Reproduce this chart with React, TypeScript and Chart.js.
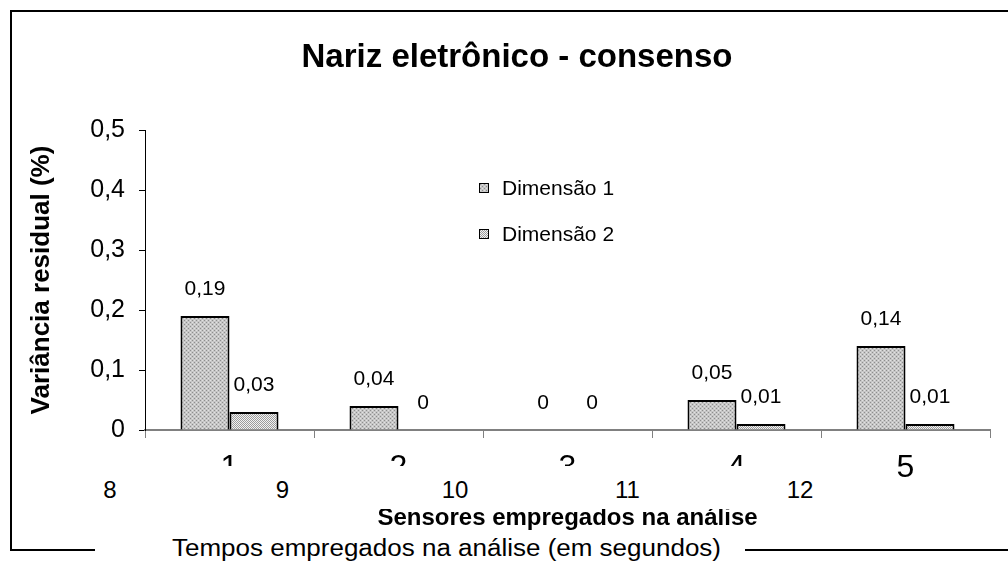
import React, { useEffect, useRef } from "react";
import { Chart, registerables } from "chart.js";

Chart.register(...registerables);

// ---- data ----
const categories = ["1", "2", "3", "4", "5"];
const seriesNames = ["Dimensão 1", "Dimensão 2"];
const dimensao1 = [0.19, 0.04, 0, 0.05, 0.14];
const dimensao2 = [0.03, 0, 0, 0.01, 0.01];
const yMin = 0;
const yMax = 0.5;
const yStep = 0.1;
const timeLabels = ["8", "9", "10", "11", "12"];
const chartTitle = "Nariz eletrônico - consenso";
const yAxisTitle = "Variância residual (%)";
const xAxisTitle = "Sensores empregados na análise";
const timeTitle = "Tempos empregados na análise (em segundos)";

const FONT = '"Liberation Sans", Arial, Helvetica, sans-serif';

function patternCanvas(kind: number): HTMLCanvasElement {
  const c = document.createElement("canvas");
  c.width = 4;
  c.height = 4;
  const ctx = c.getContext("2d")!;
  if (kind === 1) {
    ctx.fillStyle = "#c6c6c6";
    ctx.fillRect(0, 0, 4, 4);
    ctx.fillStyle = "#8e8e8e";
    ctx.fillRect(0, 0, 1, 1);
    ctx.fillRect(2, 2, 1, 1);
    ctx.fillStyle = "#e2e2e2";
    ctx.fillRect(2, 0, 1, 1);
    ctx.fillRect(0, 2, 1, 1);
  } else {
    for (let x = 0; x < 4; x++) {
      for (let y = 0; y < 4; y++) {
        ctx.fillStyle = (x + y) % 2 === 0 ? "#9c9c9c" : "#f2f2f2";
        ctx.fillRect(x, y, 1, 1);
      }
    }
  }
  return c;
}

function fmt(v: number): string {
  if (v === 0) return "0";
  return String(Math.round(v * 100) / 100).replace(".", ",");
}

const valueLabelPlugin = {
  id: "valueLabels",
  afterDatasetsDraw(chart: any) {
    const ctx = chart.ctx;
    ctx.save();
    ctx.font = `21px ${FONT}`;
    ctx.fillStyle = "#000";
    ctx.textAlign = "center";
    ctx.textBaseline = "middle";
    chart.data.datasets.forEach((ds: any, di: number) => {
      const meta = chart.getDatasetMeta(di);
      meta.data.forEach((bar: any, i: number) => {
        ctx.fillText(fmt(ds.data[i]), bar.x, bar.y - 27);
      });
    });
    ctx.restore();
  },
};

export default function App() {
  const ref = useRef<HTMLCanvasElement>(null);
  const p1 = useRef<string>("");
  const p2 = useRef<string>("");
  if (typeof document !== "undefined" && !p1.current) {
    p1.current = patternCanvas(1).toDataURL();
    p2.current = patternCanvas(2).toDataURL();
  }

  useEffect(() => {
    if (!ref.current) return;
    const ctx = ref.current.getContext("2d")!;
    const pat1 = ctx.createPattern(patternCanvas(1), "repeat");
    const pat2 = ctx.createPattern(patternCanvas(2), "repeat");
    const chart = new Chart(ref.current, {
      type: "bar",
      data: {
        labels: categories,
        datasets: [
          {
            label: seriesNames[0],
            data: dimensao1,
            backgroundColor: pat1 as any,
            borderColor: "#000",
            borderWidth: 2,
            categoryPercentage: 0.58,
            barPercentage: 1,
          },
          {
            label: seriesNames[1],
            data: dimensao2,
            backgroundColor: pat2 as any,
            borderColor: "#000",
            borderWidth: 2,
            categoryPercentage: 0.58,
            barPercentage: 1,
          },
        ],
      },
      options: {
        responsive: false,
        animation: false,
        devicePixelRatio: 1,
        layout: { padding: { left: 26, right: 18, top: 130, bottom: 30 } },
        plugins: {
          legend: { display: false },
          title: { display: false },
          tooltip: { enabled: false },
        },
        scales: {
          x: {
            grid: {
              display: true,
              drawOnChartArea: false,
              tickLength: 8,
              color: "#808080",
              lineWidth: 1,
              offset: true,
            },
            border: { color: "#808080", width: 2 },
            ticks: {
              font: { family: FONT, size: 32 },
              color: "#000",
              padding: 11,
            },
            title: {
              display: true,
              text: xAxisTitle,
              font: { family: FONT, size: 24, weight: "bold" },
              color: "#000",
              padding: { top: 0, bottom: 0 },
            },
            afterFit: (s: any) => {
              s.height = 103;
            },
          },
          y: {
            min: yMin,
            max: yMax,
            ticks: {
              stepSize: yStep,
              font: { family: FONT, size: 25 },
              color: "#000",
              padding: 14,
              callback: (v: any) => (Number(v) === 0 ? "0" : Number(v).toFixed(1).replace(".", ",")),
            },
            grid: {
              drawOnChartArea: false,
              tickLength: 6,
              color: "#000",
            },
            border: { color: "#000", width: 1 },
            title: {
              display: true,
              text: yAxisTitle,
              font: { family: FONT, size: 26, weight: "bold" },
              color: "#000",
              padding: 0,
            },
            afterFit: (s: any) => {
              s.width = 119;
            },
          },
        },
      },
      plugins: [valueLabelPlugin],
    });
    return () => chart.destroy();
  }, []);

  const abs: React.CSSProperties = { position: "absolute" };

  return (
    <div
      style={{
        position: "fixed",
        left: 0,
        top: 0,
        width: 1008,
        height: 563,
        overflow: "hidden",
        background: "#fff",
        fontFamily: FONT,
        color: "#000",
      }}
    >
      <div
        style={{
          ...abs,
          left: 10,
          top: 10,
          width: 998,
          height: 541,
          boxSizing: "border-box",
          borderTop: "2px solid #000",
          borderLeft: "2px solid #000",
          borderBottom: "2px solid #000",
        }}
      />
      <canvas ref={ref} width={1008} height={563} style={{ ...abs, left: 0, top: 0, width: 1008, height: 563 }} />
      <div
        style={{
          ...abs,
          left: 517,
          top: 39,
          transform: "translateX(-50%)",
          fontSize: 33,
          lineHeight: "33px",
          fontWeight: "bold",
          whiteSpace: "nowrap",
        }}
      >
        {chartTitle}
      </div>
      {seriesNames.map((name, i) => (
        <React.Fragment key={name}>
          <div
            style={{
              ...abs,
              left: 479,
              top: 183 + i * 46,
              width: 10,
              height: 10,
              boxSizing: "border-box",
              border: "1px solid #000",
              backgroundImage: `url(${i === 0 ? p1.current : p2.current})`,
            }}
          />
          <div
            style={{
              ...abs,
              left: 502,
              top: 177 + i * 46,
              fontSize: 21,
              lineHeight: "21px",
              whiteSpace: "nowrap",
            }}
          >
            {name}
          </div>
        </React.Fragment>
      ))}
      <div style={{ ...abs, left: 20, top: 466, width: 855, height: 43, background: "#fff" }}>
        {timeLabels.map((t, i) => (
          <div
            key={t}
            style={{
              ...abs,
              left: 90 + i * 172.5 - 40,
              top: 12,
              width: 80,
              textAlign: "center",
              fontSize: 24,
              lineHeight: "24px",
            }}
          >
            {t}
          </div>
        ))}
      </div>
      <div style={{ ...abs, left: 95, top: 535, width: 650, height: 28, background: "#fff" }}>
        <div
          style={{
            ...abs,
            left: 77,
            top: 2,
            fontSize: 23,
            lineHeight: "23px",
            whiteSpace: "nowrap",
            transform: "scaleX(1.13)",
            transformOrigin: "left center",
          }}
        >
          {timeTitle}
        </div>
      </div>
    </div>
  );
}
